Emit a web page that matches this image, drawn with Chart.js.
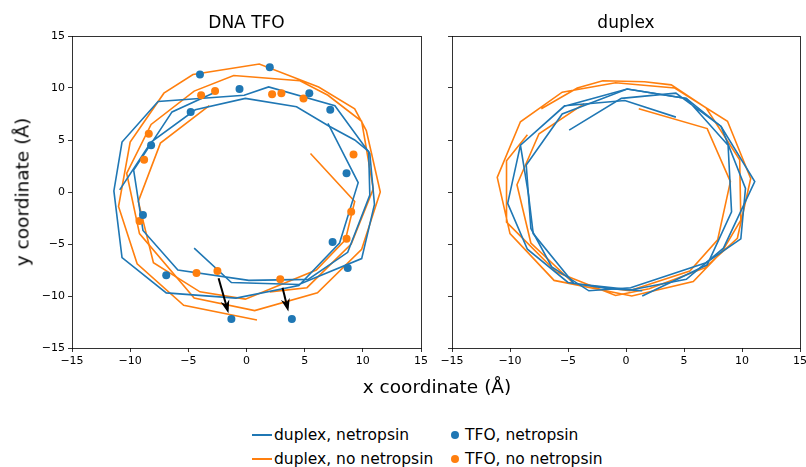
<!DOCTYPE html>
<html lang="en"><head>
<meta charset="utf-8">
<title>DNA TFO / duplex</title>
<style type="text/css">
body    { margin:0; width:806px; height:467px; overflow:hidden; background:#ffffff; font-family:"DejaVu Sans",sans-serif; color:#000000; position:relative; }
canvas  { position:absolute; top:0; }
.lbl    { position:absolute; white-space:nowrap; }
.leg    { position:absolute; font-size:15.5px; white-space:nowrap; line-height:18px; }
.line   { display:inline-block; width:20px; height:2px; vertical-align:middle; margin-right:2px; position:relative; top:-1px; }
.dot    { display:inline-block; width:8px; height:8px; border-radius:4px; vertical-align:middle; margin-right:6px; position:relative; top:-1px; }
</style>
<script src="https://cdn.jsdelivr.net/npm/chart.js@4"></script>
<script>

// duplex strands, DNA TFO panel (x,y in Angstrom)
const tfoDupNet1 = [[-4.5,-5.4],[-1.3,-8.7],[4.5,-8.9],[9.9,-6.4],[11.0,-1.2],[10.6,3.7],[7.6,8.3],[1.9,10.1],[-0.2,9.3],[-7.6,8.7],[-10.7,4.8],[-11.4,0.1],[-10.7,-6.3],[-6.9,-9.7],[-0.9,-10.2],[4.5,-9.0],[8.0,-4.9],[9.6,0.9],[7.0,6.6]];
const tfoDupNet2 = [[-2.7,9.6],[-6.4,7.7],[-9.7,2.1],[-8.9,-3.7],[-5.9,-7.5],[0.2,-8.5],[5.3,-8.4],[8.7,-5.8],[10.6,-0.3],[10.5,3.9],[9.3,5.0],[7.0,6.4],[4.3,8.2],[-0.1,9.0],[-4.4,7.9],[-8.2,4.8],[-10.9,0.2]];
const tfoDupNoNet1 = [[5.5,3.7],[9.3,-0.9],[8.5,-4.6],[6.0,-7.5],[-0.1,-10.3],[-4.0,-9.6],[-8.0,-6.8],[-9.3,-0.9],[-7.4,4.7],[-3.2,8.3]];
const tfoDupNoNet2 = [[0.9,-12.3],[-5.4,-10.9],[-9.4,-6.9],[-11.0,-1.4],[-10.0,4.8],[-7.1,9.5],[-4.6,11.3],[1.1,12.3],[6.2,10.1],[9.3,8.0],[10.3,5.9],[11.5,0.0],[9.9,-5.5],[6.1,-9.7],[0.7,-11.4],[-4.5,-10.2],[-9.2,-4.0],[-10.3,1.8],[-8.2,6.5],[-4.5,9.7],[-1.1,11.2],[4.6,10.7],[7.0,9.3],[9.9,6.8],[10.9,0.3],[9.0,-5.0],[5.2,-9.2],[2.0,-9.6]];

// TFO positions
const tfoNetropsin = [[-4.0,11.3],[2.0,12.0],[-0.6,9.9],[5.4,9.5],[7.2,7.9],[-4.8,7.7],[-8.2,4.5],[8.6,1.8],[-8.9,-2.2],[7.4,-4.8],[8.7,-7.3],[-6.9,-8.0],[-1.3,-12.2],[3.9,-12.2]];
const tfoNoNetropsin = [[-3.9,9.3],[-2.7,9.7],[-8.4,5.6],[-8.8,3.1],[2.2,9.4],[3.0,9.5],[4.9,9.0],[9.2,3.6],[9.0,-1.9],[8.6,-4.5],[-9.2,-2.8],[-4.3,-7.8],[-2.5,-7.6],[2.9,-8.4]];

// arrows in DNA TFO panel
const arrowFrom = [[-2.4,-8.3],[3.1,-9.2]];
const arrowTo   = [[-1.55,-11.65],[3.6,-11.5]];

// duplex panel
const dupNet1 = [[-4.9,5.95],[-0.4,9.0],[4.3,9.5],[8.2,6.3],[10.3,0.35],[9.9,-4.5],[6.9,-6.8],[0.4,-9.2],[-3.2,-9.5],[-6.4,-7.2],[-8.2,-3.5],[-8.6,2.6],[-5.5,7.5],[0.1,9.9],[5.2,9.0],[8.8,4.5],[9.1,-1.9],[7.0,-7.0],[1.4,-10.0]];
const dupNet2 = [[4.3,7.2],[-0.1,8.8],[-5.3,8.3],[-9.1,4.5],[-8.4,-0.3],[-8.0,-4.0],[-4.5,-8.8],[0.5,-9.4],[5.2,-8.4],[8.4,-5.4],[11.1,1.0],[8.2,6.3],[5.2,9.0],[0.1,9.9],[-5.3,8.25],[-9.1,4.5],[-10.2,-1.1],[-8.5,-5.5],[-5.0,-8.7],[-1.5,-9.3],[1.4,-9.5]];
const dupNoNet1 = [[1.1,8.0],[7.0,6.1],[9.0,1.0],[7.9,-4.6],[5.5,-7.6],[0.3,-9.5],[-4.5,-8.8],[-8.2,-4.9],[-9.4,0.7],[-7.5,5.6],[-3.6,8.5]];
const dupNoNet2 = [[-7.3,8.0],[-4.2,10.0],[-2.0,10.7],[1.6,10.6],[3.9,10.3],[6.9,8.1],[9.8,3.1],[9.9,-2.7],[8.3,-5.7],[5.8,-8.6],[0.5,-10.0],[-6.2,-8.5],[-10.0,-4.0],[-11.1,1.4],[-9.1,6.75],[-5.5,9.6],[-0.9,10.5],[4.2,10.0],[8.75,6.8],[10.75,1.3],[9.6,-4.45],[6.8,-7.3],[2.0,-9.3],[-0.9,-9.95],[-6.0,-7.7],[-10.3,-2.9],[-10.3,3.0],[-8.5,5.5]];

const axisMin = -15, axisMax = 15, axisStep = 5;
const blue = '#1f77b4', orange = '#ff7f0e';

function pts(a) { return a.map(function(p){ return {x:p[0],y:p[1]}; }); }
function minus(v) { return v<0 ? '\u2212'+Math.abs(v) : ''+v; }

function lineSet(a,color) {
  return {data:pts(a),showLine:true,borderColor:color,backgroundColor:color,borderWidth:1.6,pointRadius:0,order:2}; }
function dotSet(a,color) {
  return {data:pts(a),showLine:false,borderColor:color,backgroundColor:color,pointRadius:4,borderWidth:0,order:1}; }

const frame = { id:'frame', afterDraw:function(c) {
  const a=c.chartArea, g=c.ctx; g.save(); g.strokeStyle='#000'; g.lineWidth=0.8;
  g.strokeRect(Math.round(a.left)+0.5,Math.round(a.top)+0.5,Math.round(a.right-a.left),Math.round(a.bottom-a.top)); g.restore(); } };

const arrows = { id:'arrows', afterDatasetsDraw:function(c) {
  if (!c.options.plugins.arrows || !c.options.plugins.arrows.on) { return; }
  const g=c.ctx, sx=c.scales.x, sy=c.scales.y; g.save(); g.strokeStyle='#000'; g.fillStyle='#000'; g.lineWidth=2;
  for (let i=0;i<arrowFrom.length;i++) {
    const x0=sx.getPixelForValue(arrowFrom[i][0]), y0=sy.getPixelForValue(arrowFrom[i][1]);
    const x1=sx.getPixelForValue(arrowTo[i][0]), y1=sy.getPixelForValue(arrowTo[i][1]);
    const ang=Math.atan2(y1-y0,x1-x0), hl=13, hw=4.5;
    const bx=x1-hl*Math.cos(ang), by=y1-hl*Math.sin(ang);
    g.beginPath(); g.moveTo(x0,y0); g.lineTo(x1-4*Math.cos(ang),y1-4*Math.sin(ang)); g.stroke();
    g.beginPath(); g.moveTo(x1,y1);
    g.lineTo(bx+hw*Math.sin(ang),by-hw*Math.cos(ang));
    g.lineTo(x1-0.7*hl*Math.cos(ang),y1-0.7*hl*Math.sin(ang));
    g.lineTo(bx-hw*Math.sin(ang),by+hw*Math.cos(ang));
    g.closePath(); g.fill(); }
  g.restore(); } };

function scaleCfg(showLabels,fitW,fitH) {
  return {type:'linear',min:axisMin,max:axisMax,
    afterBuildTicks:function(s){ s.ticks=[]; for (let v=axisMin;v<=axisMax;v+=axisStep) { s.ticks.push({value:v}); } },
    afterFit:function(s){ if (fitW) { s.width=fitW; } if (fitH) { s.height=fitH; } },
    border:{display:false},
    grid:{display:true,drawOnChartArea:false,drawTicks:true,tickLength:4,color:'#000',lineWidth:0.8},
    ticks:{display:showLabels,color:'#000',padding:3,font:{family:'DejaVu Sans',size:11},callback:function(v){ return minus(v); },maxRotation:0,autoSkip:false}}; }

function makeChart(cid,title,sets,yLabels,yW,padRight,withArrows) {
  return new Chart(document.getElementById(cid),{type:'scatter',data:{datasets:sets},plugins:[frame,arrows],
    options:{responsive:false,animation:false,
      layout:{padding:{left:0,right:padRight,top:0,bottom:0}},
      scales:{x:scaleCfg(true,0,32),y:scaleCfg(yLabels,yW,0)},
      plugins:{legend:{display:false},tooltip:{enabled:false},arrows:{on:withArrows},
        title:{display:true,fullSize:false,text:title,color:'#000',font:{family:'DejaVu Sans',size:17,weight:'normal'},padding:{top:13,bottom:2.6}}}}}); }

function initChart() {
  makeChart('tfo','DNA TFO',[
    dotSet(tfoNetropsin,blue),dotSet(tfoNoNetropsin,orange),
    lineSet(tfoDupNet1,blue),lineSet(tfoDupNet2,blue),
    lineSet(tfoDupNoNet1,orange),lineSet(tfoDupNoNet2,orange)],true,72,19,true);
  makeChart('dup','duplex',[
    lineSet(dupNet1,blue),lineSet(dupNet2,blue),
    lineSet(dupNoNet1,orange),lineSet(dupNoNet2,orange)],false,22,9,false); }

</script></head>
<body onload="initChart();">
<canvas id="tfo" width="440" height="380" style="left:0px;"></canvas>
<canvas id="dup" width="380" height="380" style="left:430px;"></canvas>
<div class="lbl" style="left:437px; top:376px; transform:translateX(-50%); font-size:18.5px;">x coordinate (&Aring;)</div>
<div class="lbl" style="left:22px; top:192px; transform:translate(-50%,-50%) rotate(-90deg); font-size:18.5px;">y coordinate (&Aring;)</div>
<div class="leg" style="left:252px; top:426px;"><span class="line" style="background:#1f77b4;"></span>duplex, netropsin</div>
<div class="leg" style="left:252px; top:450px;"><span class="line" style="background:#ff7f0e;"></span>duplex, no netropsin</div>
<div class="leg" style="left:451px; top:426px;"><span class="dot" style="background:#1f77b4;"></span>TFO, netropsin</div>
<div class="leg" style="left:451px; top:450px;"><span class="dot" style="background:#ff7f0e;"></span>TFO, no netropsin</div>
</body></html>
